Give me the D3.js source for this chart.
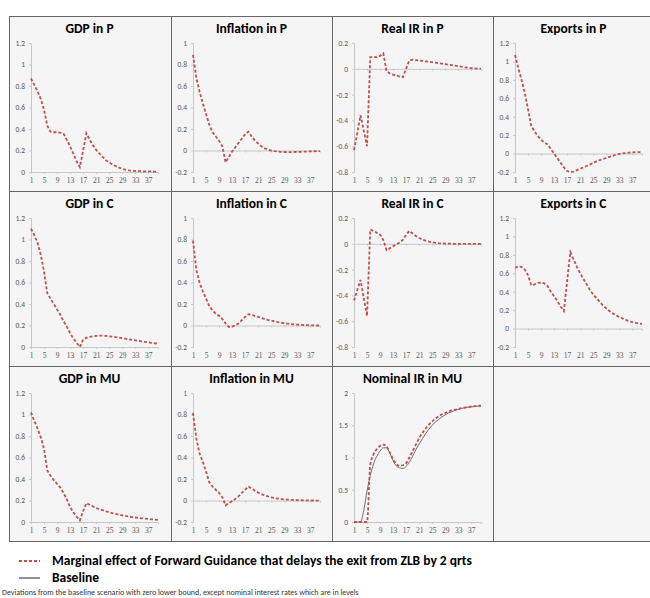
<!DOCTYPE html>
<html>
<head>
<meta charset="utf-8">
<script src="https://cdn.jsdelivr.net/npm/d3@7/dist/d3.min.js"></script>
<style>
  body { margin: 0; background: #ffffff; }
</style>
</head>
<body>
<div id="chart"></div>
<script>
// quarters on the x axis and the labels shown under it
var quarters = [1,2,3,4,5,6,7,8,9,10,11,12,13,14,15,16,17,18,19,20,21,22,23,24,25,26,27,28,29,30,31,32,33,34,35,36,37,38,39,40];
var quarterLabels = [1,5,9,13,17,21,25,29,33,37];

// y tick labels by panel type
var ticksGdp = [0,0.2,0.4,0.6,0.8,1,1.2];
var ticksInfl = [-0.2,0,0.2,0.4,0.6,0.8,1];
var ticksReal = [-0.8,-0.6,-0.4,-0.2,0,0.2];
var ticksExp = [-0.2,0,0.2,0.4,0.6,0.8,1,1.2];
var ticksNom = [0,0.5,1,1.5,2];

// marginal effect of forward guidance (red dashed)
var gdpP = [0.87,0.81,0.75,0.68,0.58,0.43,0.375,0.37,0.37,0.365,0.355,0.30,0.24,0.17,0.10,0.045,0.20,0.36,0.30,0.25,0.205,0.17,0.14,0.11,0.09,0.07,0.055,0.04,0.03,0.022,0.016,0.012,0.01,0.008,0.007,0.006,0.005,0.005,0.004,0.004];
var inflP = [0.89,0.68,0.55,0.44,0.34,0.24,0.17,0.13,0.09,0.04,-0.11,-0.06,-0.01,0.03,0.07,0.11,0.15,0.175,0.13,0.095,0.065,0.04,0.02,0.008,0,-0.006,-0.01,-0.013,-0.014,-0.015,-0.015,-0.014,-0.013,-0.012,-0.011,-0.01,-0.008,-0.007,-0.006,-0.005];
var realP = [-0.63,-0.50,-0.36,-0.48,-0.60,0.09,0.09,0.09,0.10,0.12,-0.02,-0.035,-0.045,-0.05,-0.06,-0.065,0.0,0.065,0.07,0.067,0.064,0.061,0.058,0.055,0.051,0.048,0.044,0.04,0.036,0.032,0.028,0.024,0.02,0.016,0.012,0.009,0.006,0.004,0.002,0.001];
var exportsP = [1.07,0.93,0.80,0.66,0.48,0.30,0.24,0.19,0.15,0.12,0.10,0.05,0.0,-0.05,-0.10,-0.15,-0.19,-0.20,-0.195,-0.18,-0.165,-0.15,-0.135,-0.12,-0.10,-0.085,-0.07,-0.06,-0.048,-0.036,-0.025,-0.012,-0.004,0.002,0.006,0.01,0.013,0.015,0.015,0.016];
var gdpC = [1.10,1.04,0.97,0.86,0.70,0.50,0.45,0.40,0.35,0.30,0.24,0.19,0.13,0.08,0.04,0.0,0.07,0.085,0.095,0.10,0.104,0.105,0.105,0.103,0.10,0.096,0.092,0.087,0.082,0.077,0.072,0.067,0.062,0.057,0.052,0.047,0.043,0.039,0.035,0.031];
var inflC = [0.79,0.52,0.40,0.32,0.25,0.18,0.14,0.11,0.09,0.06,0.02,-0.015,-0.01,0.0,0.02,0.05,0.08,0.105,0.10,0.09,0.08,0.07,0.06,0.052,0.045,0.038,0.032,0.026,0.021,0.017,0.013,0.01,0.008,0.006,0.004,0.003,0.002,0.001,0.0,0.0];
var realC = [-0.44,-0.36,-0.28,-0.42,-0.56,0.11,0.10,0.085,0.07,0.03,-0.05,-0.035,-0.02,-0.005,0.01,0.03,0.07,0.10,0.08,0.06,0.045,0.033,0.024,0.017,0.012,0.008,0.005,0.003,0.002,0.001,0,0,0,0,0,0,0,0,0,0];
var exportsC = [0.66,0.675,0.67,0.64,0.58,0.47,0.48,0.495,0.50,0.49,0.46,0.40,0.35,0.30,0.24,0.19,0.51,0.83,0.75,0.67,0.60,0.54,0.48,0.42,0.37,0.33,0.29,0.25,0.22,0.19,0.165,0.145,0.125,0.11,0.095,0.08,0.07,0.063,0.057,0.05];
var gdpMU = [1.02,0.94,0.87,0.79,0.68,0.48,0.43,0.39,0.355,0.32,0.27,0.21,0.14,0.09,0.05,0.015,0.10,0.175,0.16,0.145,0.13,0.12,0.11,0.10,0.09,0.082,0.075,0.068,0.062,0.056,0.051,0.046,0.042,0.038,0.034,0.031,0.028,0.025,0.022,0.02];
var inflMU = [0.815,0.58,0.44,0.36,0.27,0.17,0.13,0.10,0.07,0.03,-0.045,-0.025,-0.005,0.015,0.04,0.07,0.10,0.13,0.11,0.09,0.075,0.06,0.048,0.038,0.03,0.023,0.018,0.014,0.011,0.008,0.006,0.005,0.004,0.003,0.002,0.001,0,0,-0.001,-0.001];
var nomMU = [0,0,0,0,0,0.88,1.05,1.13,1.18,1.20,1.17,1.08,0.97,0.90,0.87,0.88,0.91,1.0,1.1,1.2,1.3,1.38,1.45,1.51,1.56,1.60,1.64,1.67,1.69,1.71,1.73,1.74,1.755,1.765,1.775,1.785,1.79,1.795,1.80,1.805];

// baseline (grey solid), only shown for the nominal rate
var nomMUBase = [0,0,0,0.18,0.48,0.72,0.90,1.02,1.10,1.15,1.15,1.07,0.95,0.87,0.84,0.83,0.86,0.93,1.02,1.12,1.21,1.29,1.37,1.44,1.50,1.55,1.59,1.63,1.66,1.69,1.71,1.73,1.745,1.76,1.77,1.78,1.785,1.79,1.795,1.80];

var panels = [
  {title: "GDP in P", values: gdpP, ticks: ticksGdp},
  {title: "Inflation in P", values: inflP, ticks: ticksInfl},
  {title: "Real IR in P", values: realP, ticks: ticksReal},
  {title: "Exports in P", values: exportsP, ticks: ticksExp},
  {title: "GDP in C", values: gdpC, ticks: ticksGdp},
  {title: "Inflation in C", values: inflC, ticks: ticksInfl},
  {title: "Real IR in C", values: realC, ticks: ticksReal},
  {title: "Exports in C", values: exportsC, ticks: ticksExp},
  {title: "GDP in MU", values: gdpMU, ticks: ticksGdp},
  {title: "Inflation in MU", values: inflMU, ticks: ticksInfl},
  {title: "Nominal IR in MU", values: nomMU, baseline: nomMUBase, ticks: ticksNom, smooth: true}
];

var width = 650, height = 598;
var colX = [9, 171, 332, 493];
var rowY = [16, 191, 366];
var cellW = 161, cellH = 175;
var plot = {left: 22, top: 27, width: 127, height: 129};

var sans = 'Carlito, "Liberation Sans", Arial, sans-serif';
var red = "#c0504d";
var grey = "#6e6e6e";

var svg = d3.select("#chart")
  .append("svg")
  .attr("width", width)
  .attr("height", height)
  .style("font-family", sans);

// grid background
svg.append("rect")
  .attr("x", colX[0])
  .attr("y", rowY[0])
  .attr("width", width - colX[0])
  .attr("height", cellH * 3)
  .attr("fill", "#f5f5f5");

var fmt = function(d) { return String(Math.round(d * 10) / 10); };

panels.forEach(function(p, i) {
  var col = i % 4, row = Math.floor(i / 4);
  var x0 = colX[col], y0 = rowY[row];

  svg.append("text")
    .attr("x", x0 + cellW / 2)
    .attr("y", y0 + 17)
    .attr("text-anchor", "middle")
    .style("font-size", "13.5px")
    .style("font-weight", "bold")
    .style("fill", "#000")
    .text(p.title);

  var g = svg.append("g")
    .attr("transform", "translate(" + (x0 + plot.left) + "," + (y0 + plot.top) + ")");

  var x = d3.scaleLinear().domain([1, 40]).range([0, plot.width]);
  var y = d3.scaleLinear().domain(d3.extent(p.ticks)).range([plot.height, 0]);

  // Y axis
  var yAxis = g.append("g")
    .call(d3.axisLeft(y).tickValues(p.ticks).tickSize(2).tickPadding(4).tickFormat(fmt));

  // X axis line at zero
  var xAxis = g.append("g")
    .attr("transform", "translate(0," + y(0) + ")")
    .call(d3.axisBottom(x).tickValues(quarterLabels).tickSize(2).tickFormat(""));

  // X labels sit low, under the plot
  var xLabels = g.append("g")
    .attr("transform", "translate(0," + plot.height + ")")
    .call(d3.axisBottom(x).tickValues(quarterLabels).tickSize(0).tickPadding(6));
  xLabels.select(".domain").remove();

  [yAxis, xAxis].forEach(function(a) {
    a.select(".domain").attr("stroke", "#c8c8c8");
    a.selectAll(".tick line").attr("stroke", "#c8c8c8");
  });
  yAxis.selectAll("text").style("font-size", "7.5px").style("fill", "#595959").style("font-family", sans);
  xLabels.selectAll("text").style("font-size", "7.5px").style("fill", "#595959").style("font-family", '"Liberation Serif", serif');

  var line = d3.line()
    .x(function(d, j) { return x(quarters[j]); })
    .y(function(d) { return y(d); });
  if (p.smooth) line.curve(d3.curveMonotoneX);

  if (p.baseline) {
    g.append("path")
      .datum(p.baseline)
      .attr("fill", "none")
      .attr("stroke", grey)
      .attr("stroke-width", 1)
      .attr("d", line);
  }

  g.append("path")
    .datum(p.values)
    .attr("fill", "none")
    .attr("stroke", red)
    .attr("stroke-width", 1.8)
    .attr("stroke-dasharray", "3,2")
    .attr("d", line);
});

// panel borders
var border = "#666";
[rowY[0], rowY[1], rowY[2], rowY[2] + cellH].forEach(function(yy) {
  svg.append("line")
    .attr("x1", colX[0]).attr("x2", width)
    .attr("y1", yy + 0.5).attr("y2", yy + 0.5)
    .style("stroke", border).style("stroke-width", 1);
});
colX.forEach(function(xx) {
  svg.append("line")
    .attr("x1", xx + 0.5).attr("x2", xx + 0.5)
    .attr("y1", rowY[0]).attr("y2", rowY[2] + cellH)
    .style("stroke", border).style("stroke-width", 1);
});

// Legend
svg.append("line")
  .attr("x1", 19).attr("x2", 40).attr("y1", 561).attr("y2", 561)
  .style("stroke", red).style("stroke-width", 1.8).style("stroke-dasharray", "3,2");
svg.append("text")
  .attr("x", 52).attr("y", 565)
  .style("font-size", "13.5px").style("font-weight", "bold")
  .text("Marginal effect of Forward Guidance that delays the exit from ZLB by 2 qrts");

svg.append("line")
  .attr("x1", 19).attr("x2", 40).attr("y1", 578).attr("y2", 578)
  .style("stroke", grey).style("stroke-width", 1.5);
svg.append("text")
  .attr("x", 52).attr("y", 582)
  .style("font-size", "13.5px").style("font-weight", "bold")
  .text("Baseline");

svg.append("text")
  .attr("x", 2).attr("y", 595)
  .style("font-size", "8px").style("fill", "#333")
  .text("Deviations from the baseline scenario with zero lower bound, except nominal interest rates which are in levels");
</script>
</body>
</html>
